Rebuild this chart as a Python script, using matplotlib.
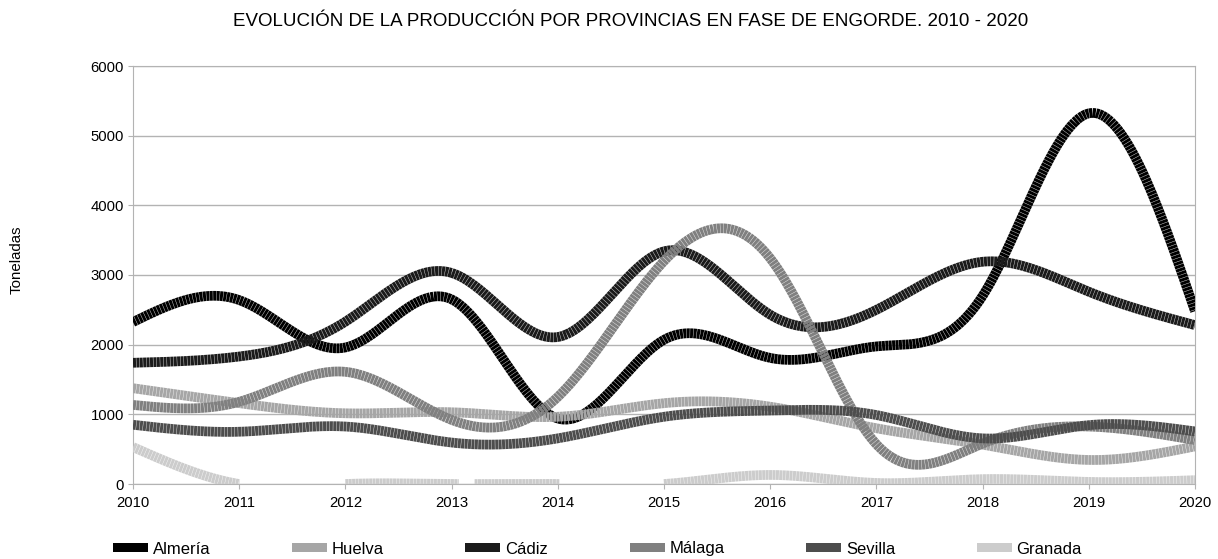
import matplotlib
matplotlib.use("Agg")
import matplotlib.pyplot as plt
import numpy as np
from matplotlib.patches import Patch

plt.rcParams['font.family'] = ['Liberation Sans', 'DejaVu Sans']

# values (toneladas)
years = list(range(2010, 2021))
almeria = [2325, 2640, 1960, 2650, 940, 2070, 1810, 1975, 2700, 5320, 2480]
huelva = [1375, 1160, 1015, 1030, 965, 1160, 1110, 800, 565, 345, 540]
cadiz = [1740, 1830, 2330, 3030, 2110, 3340, 2430, 2500, 3190, 2760, 2280]
malaga = [1135, 1180, 1610, 920, 1250, 3200, 3240, 570, 580, 825, 630]
sevilla = [850, 750, 825, 595, 655, 965, 1055, 990, 655, 845, 755]
granada = [530, 0, 0, 0, 0, 0, 130, 15, 70, 30, 55]

names = ['Almería', 'Huelva', 'Cádiz', 'Málaga', 'Sevilla', 'Granada']
series = [almeria, huelva, cadiz, malaga, sevilla, granada]
colors = ['#000000', '#a6a6a6', '#1b1b1b', '#808080', '#4d4d4d', '#cccccc']


def natural_spline(x, y, n=60):
    # natural cubic spline through the points, like the smoothed lines of the original
    x = np.asarray(x, float)
    y = np.asarray(y, float)
    k = len(x)
    h = np.diff(x)
    A = np.zeros((k, k))
    b = np.zeros(k)
    A[0, 0] = A[-1, -1] = 1
    for i in range(1, k - 1):
        A[i, i - 1] = h[i - 1]
        A[i, i] = 2 * (h[i - 1] + h[i])
        A[i, i + 1] = h[i]
        b[i] = 6 * ((y[i + 1] - y[i]) / h[i] - (y[i] - y[i - 1]) / h[i - 1])
    M = np.linalg.solve(A, b)
    xs, ys = [], []
    for i in range(k - 1):
        t = np.linspace(x[i], x[i + 1], n, endpoint=(i == k - 2))
        a = x[i + 1] - t
        c = t - x[i]
        s = (M[i] * a**3 + M[i + 1] * c**3) / (6 * h[i]) \
            + (y[i] / h[i] - M[i] * h[i] / 6) * a \
            + (y[i + 1] / h[i] - M[i + 1] * h[i] / 6) * c
        xs.append(t)
        ys.append(s)
    return np.concatenate(xs), np.concatenate(ys)


fig = plt.figure(figsize=(12.18, 5.59), dpi=100)
ax = fig.add_axes([133 / 1218, 1 - 484 / 559, (1195 - 133) / 1218, (484 - 66) / 559])

for name, vals, col in zip(names, series, colors):
    xs, ys = natural_spline(years, vals)
    ys[ys < -0.5] = np.nan  # parts dipping under the axis are not drawn
    ax.plot(xs, ys, color=col, lw=7, linestyle=(0, (0.31, 0.04)),
            dash_capstyle='butt', solid_capstyle='butt', zorder=3)

ax.set_xlim(2010, 2020)
ax.set_ylim(0, 6000)
ax.set_xticks(years)
ax.set_yticks(range(0, 7000, 1000))
ax.grid(axis='y', color='#b3b3b3', lw=1)
ax.set_axisbelow(True)
for sp in ax.spines.values():
    sp.set_color('#b3b3b3')
ax.tick_params(length=3.6, color='#b3b3b3', labelsize=10.7, labelcolor='#000000')
ax.tick_params(axis='x', pad=5)
ax.tick_params(axis='y', pad=3)

fig.text(631 / 1218, 1 - 26 / 559, 'EVOLUCIÓN DE LA PRODUCCIÓN POR PROVINCIAS EN FASE DE ENGORDE. 2010 - 2020',
         ha='center', va='baseline', fontsize=13.5)
fig.text(17 / 1218, 1 - 260 / 559, 'Toneladas', rotation=90, ha='center', va='center', fontsize=10.8)

handles = [Patch(facecolor=c, edgecolor='none') for c in colors]
fig.legend(handles, names, loc='center left', bbox_to_anchor=(113 / 1218, 1 - 549 / 559),
           ncol=6, frameon=False, handlelength=2.1, handleheight=0.48, handletextpad=0.3,
           columnspacing=4.88, fontsize=12, borderaxespad=0, borderpad=0)

fig.savefig('out.png', dpi=100)
